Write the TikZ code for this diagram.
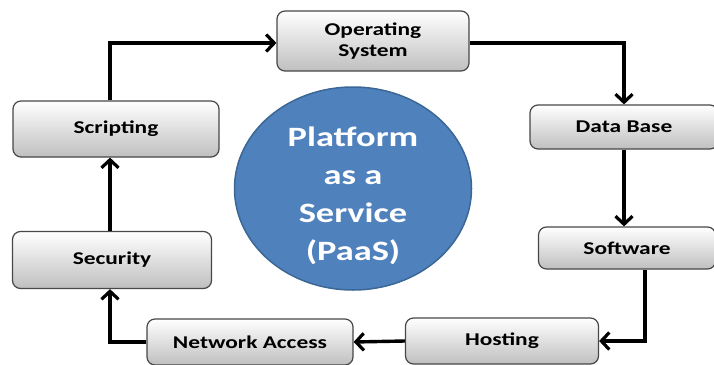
\documentclass[tikz,border=0pt]{standalone}
\usepackage{fontspec}
\setmainfont[FakeStretch=1.3]{Carlito}
\usepackage{xcolor}
\usetikzlibrary{shapes.geometric, arrows.meta}

\definecolor{paasblue}{HTML}{4F81BD}
\definecolor{paasedge}{HTML}{3B6796}

\begin{document}
\begin{tikzpicture}[
    x=1pt, y=-1pt,
    step_box/.style={draw=black!72, line width=1.2pt, rounded corners=8pt, top color=white, bottom color=black!25, align=center, font=\fontsize{18}{21}\selectfont\bfseries, inner sep=0pt},
    flow_line/.style={line width=3.4pt, draw=black, -{Straight Barb[length=8pt, width=17pt, line width=3.2pt]}}
]
    \useasboundingbox (0,0) rectangle (714,364);

    % Centre circle
    \node (paas) [ellipse, fill=paasblue, draw=paasedge, line width=1.5pt, minimum width=237pt, minimum height=203pt] at (353, 188.5) {};
    \node (paas_label) [text=white, align=center, font=\fontsize{28}{38}\selectfont\bfseries] at (353, 196) {Platform\\as a\\Service\\(PaaS)};

    % Boxes
    \node (os)  [step_box, minimum width=192pt, minimum height=60pt] at (373, 41) {Operating\\System};
    \node (db)  [step_box, minimum width=188pt, minimum height=44pt] at (624, 127) {Data Base};
    \node (sw)  [step_box, minimum width=177pt, minimum height=42pt] at (627, 248) {Software};
    \node (hst) [step_box, minimum width=193pt, minimum height=46pt] at (502, 341) {Hosting};
    \node (net) [step_box, minimum width=206pt, minimum height=46pt] at (250, 342) {Network Access};
    \node (sec) [step_box, minimum width=199pt, minimum height=57pt] at (112, 260) {Security};
    \node (scr) [step_box, minimum width=206pt, minimum height=56pt] at (116, 129) {Scripting};

    % Flow
    \draw [flow_line] ([xshift=-6pt]scr.north) |- ([yshift=-2pt]os.west);
    \draw [flow_line] ([yshift=-2pt]os.east) -| (db.north);
    \draw [flow_line] (db.south) -- (db.south |- sw.north);
    \draw [flow_line] ([xshift=18pt]sw.south) |- (hst.east);
    \draw [flow_line] (hst.west) -- (net.east);
    \draw [flow_line] (net.west) -| ([xshift=-2pt]sec.south);
    \draw [flow_line] ([xshift=-2pt]sec.north) -- ([xshift=-2pt]sec.north |- scr.south);
\end{tikzpicture}
\end{document}
